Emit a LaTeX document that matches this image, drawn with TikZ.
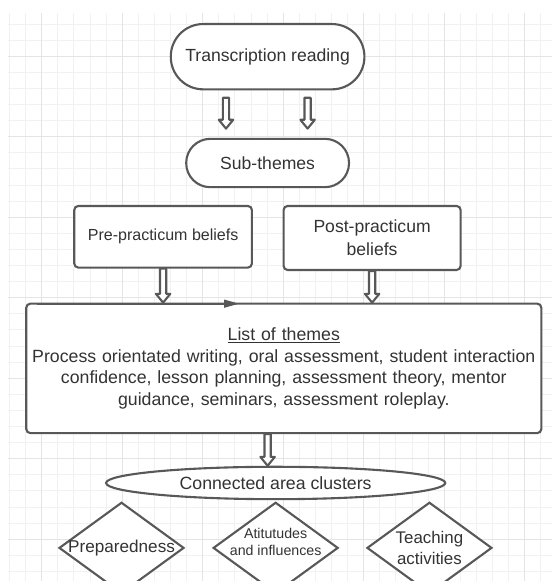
\documentclass[tikz,border=0pt]{standalone}
\usepackage{fontspec}
\setmainfont{Liberation Sans}
\usetikzlibrary{shapes.geometric, arrows.meta, positioning, calc}
\definecolor{LineGray}{HTML}{585858}
\definecolor{TextGray}{HTML}{333333}
\definecolor{GridMinor}{HTML}{F1F1F1}
\definecolor{GridMajor}{HTML}{E4E4E4}

\begin{document}
\begin{tikzpicture}[>=Stealth,
        pill/.style={rectangle, draw=LineGray, line width=1.5pt, fill=white, text=TextGray, align=center, inner sep=0pt, font=\fontsize{12.5}{15}\selectfont},
        box/.style={rectangle, draw=LineGray, line width=1.5pt, fill=white, rounded corners=0.1cm, text=TextGray, align=center},
        cluster/.style={ellipse, draw=LineGray, line width=1.5pt, fill=white, text=TextGray, inner sep=0pt, minimum width=8.48cm, minimum height=0.81cm, font=\fontsize{12.6}{15}\selectfont},
        dia/.style={diamond, draw=LineGray, line width=1.5pt, fill=white, inner sep=0pt, minimum width=3.125cm, minimum height=2.28cm},
        diatext/.style={text=TextGray, align=center, inner sep=0pt},
        hollow/.style={draw=LineGray, fill=white, line width=1.5pt, line join=round,
            to path={($(\tikztostart)+(-0.078,0)$) -- ($(\tikztotarget)+(-0.078,0.22)$) -- ($(\tikztotarget)+(-0.18,0.22)$) -- (\tikztotarget)
                -- ($(\tikztotarget)+(0.18,0.22)$) -- ($(\tikztotarget)+(0.078,0.22)$) -- ($(\tikztostart)+(0.078,0)$) -- cycle}},
        flowtip/.style={draw=LineGray, line width=1.5pt, -{Triangle[length=0.375cm, width=0.19cm]}}]

        \useasboundingbox (0,0) rectangle (13.8,-14.525);
        \clip (0,0) rectangle (13.8,-14.525);

        % background grid
        \foreach \i in {0,...,33}
            \draw[GridMinor, line width=0.7pt] ({0.2375+0.4025*\i},-0.325) -- ({0.2375+0.4025*\i},-14.525);
        \foreach \j in {0,...,34}
            \draw[GridMinor, line width=0.7pt] (0.2,{-0.6-0.4025*\j}) -- (13.8,{-0.6-0.4025*\j});
        \foreach \i in {2,7,...,32}
            \draw[GridMajor, line width=0.7pt] ({0.2375+0.4025*\i},-0.325) -- ({0.2375+0.4025*\i},-14.525);
        \foreach \j in {2,7,...,32}
            \draw[GridMajor, line width=0.7pt] (0.2,{-0.6-0.4025*\j}) -- (13.8,{-0.6-0.4025*\j});

        \node[pill, minimum width=4.84cm, minimum height=1.6325cm, rounded corners=0.81cm] (read) at (6.69,-1.4175) {Transcription reading};
        \node[pill, below=1.185cm of read, minimum width=4.07cm, minimum height=1.2075cm, rounded corners=0.6cm] (sub) {Sub-themes};

        \node[box, below=0.4175cm of sub, xshift=-2.6125cm, minimum width=4.44cm, minimum height=1.54cm, font=\fontsize{11.4}{14}\selectfont] (pre) {Pre-practicum beliefs};
        \node[box, below=0.4175cm of sub, xshift=2.6125cm, minimum width=4.425cm, minimum height=1.6cm, font=\fontsize{12.5}{16.6}\selectfont] (post) {Post-practicum\\beliefs};

        \node[box, below=0.85cm of pre, xshift=3.0175cm, minimum width=12.875cm, minimum height=3.235cm, text width=12.6cm, font=\fontsize{12.6}{15.4}\selectfont] (list) {\underline{List of themes}\\Process orientated writing, oral assessment, student interaction\\confidence, lesson planning, assessment theory, mentor\\guidance, seminars, assessment roleplay.};

        \node[cluster, below=0.79cm of list, xshift=-0.204cm] (clusters) {Connected area clusters};

        \node[dia, below=0.025cm of clusters, label={[diatext, yshift=0.15cm, font=\fontsize{10.1}{12.3}\selectfont]center:Atitutudes\\and influences}] (att) {};
        \node[dia, left=0.675cm of att, label={[diatext, font=\fontsize{12.2}{15}\selectfont]center:Preparedness}] (prep) {};
        \node[dia, right=0.6675cm of att, label={[diatext, font=\fontsize{12}{14.7}\selectfont]center:Teaching\\activities}] (teach) {};

        \coordinate (readL) at ([xshift=-1.04cm, yshift=-0.185cm]read.south);
        \coordinate (readR) at ([xshift=1cm, yshift=-0.185cm]read.south);
        \coordinate (subL) at ([yshift=0.23cm]readL |- sub.north);
        \coordinate (subR) at ([yshift=0.23cm]readR |- sub.north);

        \draw[hollow] (readL) to (subL);
        \draw[hollow] (readR) to (subR);
        \draw[hollow] (pre.south) to (pre.south |- list.north);
        \draw[hollow] (post.south) to (post.south |- list.north);
        \draw[hollow] (read |- list.south) to (read |- clusters.north);

        \coordinate (flow) at ($(list.north west)+(5.35cm,-0.75pt)$);
        \draw[flowtip] ([xshift=0.3cm, yshift=-0.75pt]list.north west) -- (flow);
    \end{tikzpicture}
\end{document}
